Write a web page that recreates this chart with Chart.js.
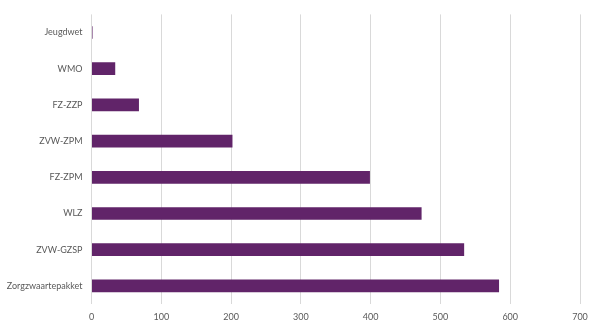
<!DOCTYPE html>
<html>
<head>
<meta charset="utf-8">
<script src="https://cdn.jsdelivr.net/npm/chart.js@4"></script>
<style>
  html, body { margin: 0; padding: 0; background: #ffffff; }
  #wrap { width: 600px; height: 330px; position: relative; }
</style>
</head>
<body>
<div id="wrap"><canvas id="chart"></canvas></div>
<script>
// Categories (top to bottom) and their values
const categories = ['Jeugdwet', 'WMO', 'FZ-ZZP', 'ZVW-ZPM', 'FZ-ZPM', 'WLZ', 'ZVW-GZSP', 'Zorgzwaartepakket'];
const values = [1.5, 34, 68, 202, 399, 473, 534, 584];
const xTicks = [0, 100, 200, 300, 400, 500, 600, 700];

const labelFont = { family: 'Lato, "Open Sans", sans-serif', size: 9 };
const labelColor = '#595959';

new Chart(document.getElementById('chart'), {
  type: 'bar',
  data: {
    labels: categories,
    datasets: [{
      data: values,
      backgroundColor: '#612469',
      borderWidth: 0,
      categoryPercentage: 1,
      barPercentage: 0.35
    }]
  },
  options: {
    indexAxis: 'y',
    responsive: true,
    maintainAspectRatio: false,
    animation: false,
    layout: { padding: { top: 12, right: 20, left: 0, bottom: 0 } },
    plugins: { legend: { display: false }, tooltip: { enabled: false } },
    scales: {
      x: {
        min: 0,
        max: 700,
        afterBuildTicks: (axis) => { axis.ticks = xTicks.map(v => ({ value: v })); },
        afterFit: (axis) => { axis.height = 26; },
        grid: { color: '#d9d9d9', lineWidth: 1, drawTicks: false },
        border: { display: false },
        ticks: { font: labelFont, color: labelColor, padding: 8 }
      },
      y: {
        afterFit: (axis) => { axis.width = 91.5; },
        grid: { display: false, drawTicks: false },
        border: { display: false },
        ticks: { font: labelFont, color: labelColor, padding: 9 }
      }
    }
  }
});
</script>
</body>
</html>
